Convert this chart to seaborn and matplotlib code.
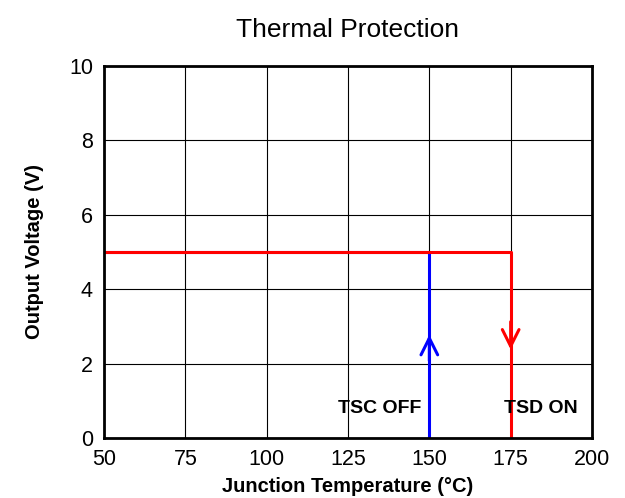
import matplotlib
matplotlib.use("Agg")
import matplotlib.pyplot as plt
import seaborn as sns
import pandas as pd

# ---------- DATA ----------
tsd_temp = [50, 175, 175]
tsd_volt = [5, 5, 0]
tsc_temp = [50, 150, 150]
tsc_volt = [5, 5, 0]
x_ticks = [50, 75, 100, 125, 150, 175, 200]
y_ticks = [0, 2, 4, 6, 8, 10]

tsd = pd.DataFrame({"temp": tsd_temp, "volt": tsd_volt})
tsc = pd.DataFrame({"temp": tsc_temp, "volt": tsc_volt})

sns.set_style("white")
plt.rcParams['font.family'] = ['Liberation Sans', 'DejaVu Sans']
plt.rcParams['text.color'] = 'black'
plt.rcParams['axes.labelcolor'] = 'black'
plt.rcParams['xtick.color'] = 'black'
plt.rcParams['ytick.color'] = 'black'

fig = plt.figure(figsize=(6.25, 4.98), dpi=100)
ax = fig.add_axes([0.1664, 0.1205, 0.7808, 0.747])

# blue first, red on top
sns.lineplot(data=tsc, x="temp", y="volt", sort=False, estimator=None,
             color="#0000ff", lw=2.2, ax=ax)
sns.lineplot(data=tsd, x="temp", y="volt", sort=False, estimator=None,
             color="#ff0000", lw=2.2, ax=ax)

# arrow heads
ax.annotate("", xy=(150, 2.85), xytext=(150, 2.0),
            arrowprops=dict(arrowstyle="->,head_length=0.6,head_width=0.3",
                            color="#0000ff", lw=2.2, mutation_scale=20))
ax.annotate("", xy=(175, 2.3), xytext=(175, 3.2),
            arrowprops=dict(arrowstyle="->,head_length=0.6,head_width=0.3",
                            color="#ff0000", lw=2.2, mutation_scale=20))

ax.text(147.5, 0.78, "TSC OFF", ha="right", va="center", fontsize=14, fontweight="bold")
ax.text(184.2, 0.78, "TSD ON", ha="center", va="center", fontsize=14, fontweight="bold")

ax.set_xlim(50, 200)
ax.set_ylim(0, 10)
ax.set_xticks(x_ticks)
ax.set_yticks(y_ticks)
ax.tick_params(labelsize=15.5, length=0, pad=8)
ax.grid(True, color="black", lw=0.8)
for s in ax.spines.values():
    s.set_color("black")
    s.set_linewidth(2)

ax.set_xlabel("Junction Temperature (°C)", fontsize=14.5, fontweight="bold", labelpad=5)
ax.set_ylabel("Output Voltage (V)", fontsize=14.5, fontweight="bold", labelpad=18)
ax.set_title("Thermal Protection", fontsize=19, pad=21)

fig.savefig("out.png", dpi=100)
